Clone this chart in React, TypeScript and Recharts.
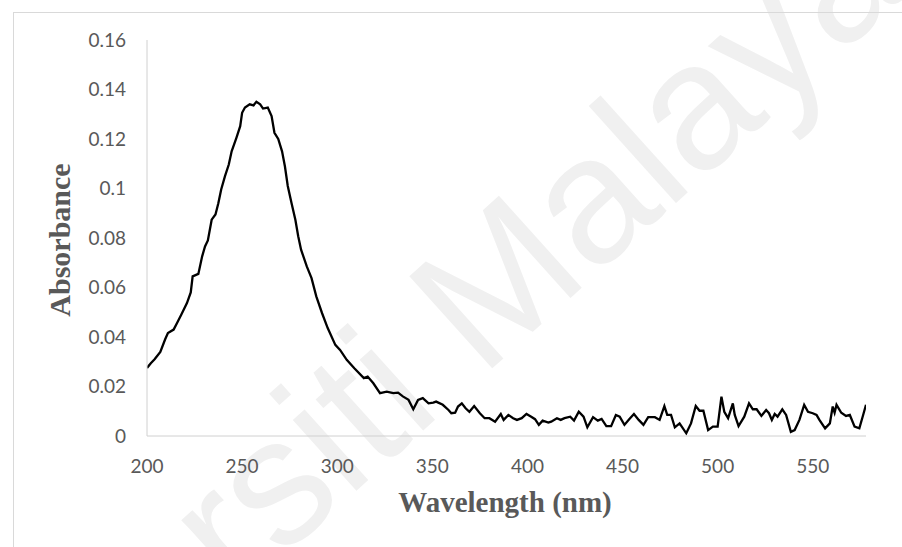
import { LineChart, Line, XAxis, YAxis } from 'recharts'

// wavelength (nm) and absorbance
const wavelength = [
  200, 202, 204, 207, 209.5, 211, 214, 216, 218, 221,
  223, 224, 227, 229, 230.5, 232, 234, 236, 237.5, 239,
  241, 243, 244.5, 247, 249, 250, 251.5, 254, 256, 257.5,
  259.5, 261, 263.5, 265.5, 267, 269, 271, 272.5, 274, 276,
  278, 279.5, 281, 284, 286.5, 289, 292, 295, 299, 301.5,
  305, 309, 314, 316, 319, 322.5, 326, 329.5, 332, 334.5,
  337.5, 340, 342.5, 345, 348, 350.5, 352, 355.5, 358.5, 360,
  362, 363.5, 365.5, 367.5, 369.5, 372, 375, 377.5, 380, 383,
  386, 387.5, 390, 392.5, 394.5, 397, 399.5, 402, 404, 406,
  408, 411, 412.5, 415.5, 417.5, 419.5, 422.5, 424.5, 427, 429.5,
  431.5, 434.5, 437, 439, 441.5, 444, 446.5, 448.5, 451, 453.5,
  456, 458.5, 461, 463.5, 467, 469.5, 472, 473.5, 475.5, 477.5,
  480, 483.5, 486, 488.5, 490.5, 492.5, 495, 497.5, 500, 502,
  503.5, 505.5, 508, 509, 511, 514, 516.5, 518.5, 520.5, 523,
  525.5, 527, 528.5, 530, 531.5, 534, 536, 538.5, 540.5, 543,
  545.5, 547.5, 550, 552, 553.5, 556.5, 559, 560.5, 561.5, 562.5,
  565, 567.5, 569.5, 572, 574.5, 576.5, 578,
]

const absorbance = [
  0.0275, 0.0294, 0.031, 0.034, 0.039, 0.0416, 0.043, 0.046, 0.049, 0.0537,
  0.058, 0.0645, 0.0655, 0.0726, 0.0766, 0.079, 0.0874, 0.0895, 0.094, 0.0996,
  0.105, 0.1097, 0.115, 0.1205, 0.1252, 0.1306, 0.1327, 0.134, 0.1336, 0.135,
  0.134, 0.1323, 0.1327, 0.1293, 0.1225, 0.12, 0.115, 0.109, 0.101, 0.094,
  0.0874, 0.0807, 0.0753, 0.0685, 0.0638, 0.0564, 0.0497, 0.0436, 0.0368, 0.0348,
  0.0308, 0.0274, 0.0234, 0.024, 0.0213, 0.0173, 0.0179, 0.0173, 0.0175, 0.016,
  0.0146, 0.0108, 0.0146, 0.0153, 0.0132, 0.0135, 0.0139, 0.0126, 0.0105, 0.0092,
  0.0094, 0.0119, 0.0132, 0.0112, 0.0098, 0.0121, 0.0092, 0.0072, 0.0072, 0.0058,
  0.0089, 0.0065, 0.0085, 0.0072, 0.0065, 0.0072, 0.0089, 0.0078, 0.0068, 0.0045,
  0.0062, 0.0054, 0.0058, 0.0072, 0.0065, 0.0072, 0.0078, 0.0062, 0.0098, 0.0078,
  0.0035, 0.0076, 0.0062, 0.0069, 0.004, 0.004, 0.0085, 0.0078, 0.0045, 0.0068,
  0.0089, 0.0065, 0.0045, 0.0076, 0.0076, 0.0065, 0.0121, 0.0085, 0.0085, 0.0035,
  0.0051, 0.0011, 0.0051, 0.0121, 0.0102, 0.0102, 0.0024, 0.0038, 0.0038, 0.0159,
  0.0098, 0.0072, 0.0132, 0.0085, 0.004, 0.0078, 0.0132, 0.0108, 0.0108, 0.0081,
  0.0105, 0.0092, 0.0065, 0.0089, 0.0078, 0.0108, 0.0085, 0.0017, 0.0024, 0.0065,
  0.0126, 0.0098, 0.0092, 0.0085, 0.0065, 0.0031, 0.0051, 0.0119, 0.0094, 0.0126,
  0.0094, 0.0081, 0.0085, 0.0038, 0.0031, 0.0085, 0.0126,
]

const xTicks = [200, 250, 300, 350, 400, 450, 500, 550]
const yTicks = [0, 0.02, 0.04, 0.06, 0.08, 0.1, 0.12, 0.14, 0.16]

const data = wavelength.map((nm, i) => ({ nm, abs: absorbance[i] }))

const tickStyle = { fill: '#595959', fontSize: 19, fontFamily: 'Lato, "Open Sans", sans-serif' }
const titleFont = '"Liberation Serif", "Times New Roman", serif'

export default function App() {
  return (
    <div style={{ position: 'absolute', left: 0, top: 0, width: 902, height: 547, background: '#fff', overflow: 'hidden' }}>
      {/* watermark */}
      <svg width={902} height={547} style={{ position: 'absolute', left: 0, top: 0 }}>
        <text
          x={-106} y={907}
          transform="rotate(-42 -106 907)"
          fontSize={180}
          fontFamily='"Liberation Sans", Arial, sans-serif'
          fill="#f0f0f0"
        >
          Universiti Malaya
        </text>
      </svg>

      {/* chart area border */}
      <div style={{ position: 'absolute', left: 13, top: 12, width: 900, height: 540, borderTop: '1px solid #d9d9d9', borderLeft: '1px solid #d9d9d9' }} />

      <div style={{ position: 'absolute', left: 0, top: 0 }}>
        <LineChart width={902} height={547} data={data} margin={{ top: 40, right: 36, left: 67, bottom: 81 }}>
          <XAxis
            dataKey="nm" type="number" domain={[200, 578]} ticks={xTicks} allowDataOverflow
            height={30} tickLine={false} tickSize={0} tickMargin={24}
            axisLine={{ stroke: '#d0d0d0', strokeWidth: 1 }}
            tick={tickStyle}
          />
          <YAxis
            type="number" domain={[0, 0.16]} ticks={yTicks} allowDataOverflow
            width={80} tickLine={false} tickSize={0} tickMargin={21}
            axisLine={{ stroke: '#d0d0d0', strokeWidth: 1 }}
            tick={tickStyle}
          />
          <Line
            type="linear" dataKey="abs" stroke="#000" strokeWidth={2.3}
            dot={false} isAnimationActive={false}
          />
        </LineChart>
      </div>

      {/* axis titles */}
      <svg width={902} height={547} style={{ position: 'absolute', left: 0, top: 0, pointerEvents: 'none' }}>
        <text x={505} y={512} textAnchor="middle" fontSize={29} fontWeight="bold" fontFamily={titleFont} fill="#595959">
          Wavelength (nm)
        </text>
        <text x={70} y={240} textAnchor="middle" fontSize={30} fontWeight="bold" fontFamily={titleFont} fill="#595959" transform="rotate(-90 70 240)">
          Absorbance
        </text>
      </svg>
    </div>
  )
}
